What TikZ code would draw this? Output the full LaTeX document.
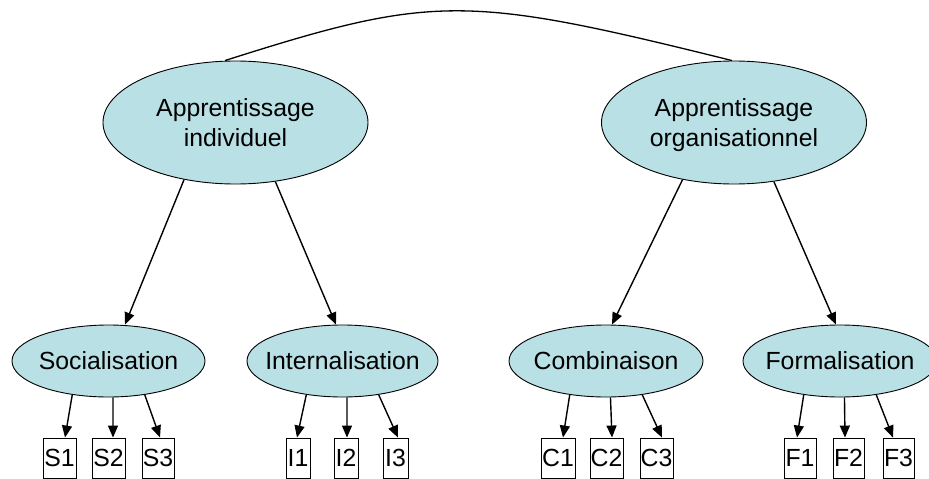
\documentclass[tikz,border=0pt]{standalone}
\usepackage{fontspec}
\setmainfont{Liberation Sans}
\usetikzlibrary{shapes.geometric,arrows.meta}
\definecolor{fillc}{RGB}{185,224,228}
\begin{document}
\begin{tikzpicture}[x=1pt,y=-1pt,
  txt/.style={font=\fontsize{24.8}{30}\selectfont},
  big/.style={ellipse,draw,line width=0.9pt,fill=fillc,minimum width=265pt,minimum height=123pt,inner sep=0pt,align=center,txt},
  small/.style={ellipse,draw,line width=0.9pt,fill=fillc,minimum height=72pt,inner sep=0pt,txt},
  leaf/.style={draw,line width=0.9pt,fill=white,minimum height=40pt,inner sep=0pt,txt},
  arr/.style={-{Triangle[length=12pt,width=10pt]},line width=1.4pt},
  link/.style={line width=1.3pt}]
\useasboundingbox (0,0) rectangle (929,479);
\clip (0,0) rectangle (929,479);
% top level
\node[big] (ai) at (235.5,122.5) {Apprentissage\\individuel};
\node[big] (ao) at (734,122.5) {Apprentissage\\\smash{organisationnel}};
% second level
\node[small,minimum width=193pt] (soc) at (108.5,361) {\makebox[0pt]{Socialisation}};
\node[small,minimum width=191pt] (int) at (342.5,361) {\makebox[0pt]{Internalisation}};
\node[small,minimum width=194pt] (com) at (606,361) {\makebox[0pt]{Combinaison}};
\node[small,minimum width=194pt] (for) at (840,361) {\makebox[0pt]{Formalisation}};
% leaves
\node[leaf,minimum width=33pt] (S1) at (59.5,458) {S1};
\node[leaf,minimum width=33pt] (S2) at (108.5,458) {S2};
\node[leaf,minimum width=32pt] (S3) at (158,458) {S3};
\node[leaf,minimum width=24pt] (I1) at (298,458) {I1};
\node[leaf,minimum width=24pt] (I2) at (346,458) {I2};
\node[leaf,minimum width=25pt] (I3) at (395.5,458) {I3};
\node[leaf,minimum width=34pt] (C1) at (558,458) {C1};
\node[leaf,minimum width=33pt] (C2) at (606.5,458) {C2};
\node[leaf,minimum width=33pt] (C3) at (656.5,458) {C3};
\node[leaf,minimum width=32pt] (F1) at (800,458) {F1};
\node[leaf,minimum width=31pt] (F2) at (848.5,458) {F2};
\node[leaf,minimum width=31pt] (F3) at (898.5,458) {F3};
% arc between the two top ellipses
\draw[link] ([xshift=-10.5pt]ai.north) .. controls (434,-6) and (466,-5.5) .. ([xshift=-2pt]ao.north);
% top arrows
\draw[arr] (ai.228.4) -- ([xshift=16.5pt]soc.north);
\draw[arr] (ai.304.6) -- ([xshift=-6.5pt]int.north);
\draw[arr] (ao.228.4) -- ([xshift=6pt]com.north);
\draw[arr] (ao.304.6) -- ([xshift=-4pt]for.north);
% leaf arrows
\draw[arr] (soc.223.8) -- ([xshift=5.5pt]S1.north);
\draw[arr] (soc.277.9) -- ([xshift=4.5pt]S2.north);
\draw[arr] (soc.317.1) -- ([xshift=2pt]S3.north);
\draw[arr] (int.223.8) -- ([xshift=-1pt]I1.north);
\draw[arr] (int.277.9) -- ([xshift=1pt]I2.north);
\draw[arr] (int.317.1) -- ([xshift=2.5pt]I3.north);
\draw[arr] (com.223.8) -- ([xshift=5pt]C1.north);
\draw[arr] (com.277.9) -- ([xshift=5.5pt]C2.north);
\draw[arr] (com.317.1) -- ([xshift=5.5pt]C3.north);
\draw[arr] (for.223.8) -- ([xshift=-3pt]F1.north);
\draw[arr] (for.277.9) -- ([xshift=-3.5pt]F2.north);
\draw[arr] (for.317.1) -- ([xshift=-5.5pt]F3.north);
\end{tikzpicture}
\end{document}
